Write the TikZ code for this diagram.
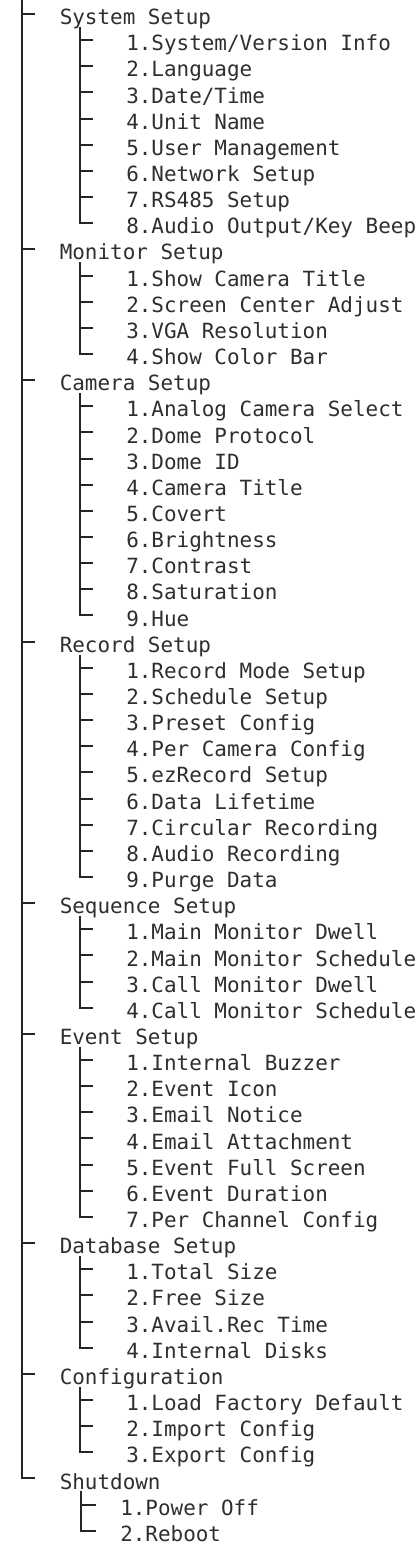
\documentclass[tikz,border=0pt]{standalone}
\usepackage{fontspec}
\newfontfamily\mono{DejaVu Sans Mono}
\definecolor{txt}{HTML}{2E2E2E}
\definecolor{ln}{HTML}{262626}
\tikzset{
  lbl/.style={anchor=base west, inner sep=0pt, text=txt, font=\mono\fontsize{15.7pt}{18pt}\selectfont},
  br/.style={line width=1.5pt, draw=ln}
}
\newcommand\rowy[1]{17+26.15*#1}
\newcommand\Top[2]{%
  \node[lbl] (s#1) at (59.5,{\rowy{#1}+7.6}) {#2};
  \coordinate (s#1-t) at (22,{\rowy{#1}-3});
  \coordinate (s#1-b) at (80,{\rowy{#1}+10});
  \draw[br] (s#1-t) -- ++(13,0);}
\newcommand\Sub[2]{%
  \node[lbl] (s#1) at (126,{\rowy{#1}+7.6}) {#2};
  \coordinate (s#1-t) at (80,{\rowy{#1}-3});
  \draw[br] (s#1-t) -- ++(13,0);}
\newcommand\SubS[2]{%
  \node[lbl] (s#1) at (120,{\rowy{#1}+7.6}) {#2};
  \coordinate (s#1-t) at (80.5,{\rowy{#1}-3});
  \draw[br] (s#1-t) -- ++(15,0);}
\begin{document}
\begin{tikzpicture}[x=0.75pt,y=-0.75pt]
\useasboundingbox (0,0) rectangle (420,1559);
\coordinate (root) at (22,0);
\Top{0}{System Setup}
\Sub{1}{1.System/Version Info}
\Sub{2}{2.Language}
\Sub{3}{3.Date/Time}
\Sub{4}{4.Unit Name}
\Sub{5}{5.User Management}
\Sub{6}{6.Network Setup}
\Sub{7}{7.RS485 Setup}
\Sub{8}{8.Audio Output/Key Beep}
\Top{9}{Monitor Setup}
\Sub{10}{1.Show Camera Title}
\Sub{11}{2.Screen Center Adjust}
\Sub{12}{3.VGA Resolution}
\Sub{13}{4.Show Color Bar}
\Top{14}{Camera Setup}
\Sub{15}{1.Analog Camera Select}
\Sub{16}{2.Dome Protocol}
\Sub{17}{3.Dome ID}
\Sub{18}{4.Camera Title}
\Sub{19}{5.Covert}
\Sub{20}{6.Brightness}
\Sub{21}{7.Contrast}
\Sub{22}{8.Saturation}
\Sub{23}{9.Hue}
\Top{24}{Record Setup}
\Sub{25}{1.Record Mode Setup}
\Sub{26}{2.Schedule Setup}
\Sub{27}{3.Preset Config}
\Sub{28}{4.Per Camera Config}
\Sub{29}{5.ezRecord Setup}
\Sub{30}{6.Data Lifetime}
\Sub{31}{7.Circular Recording}
\Sub{32}{8.Audio Recording}
\Sub{33}{9.Purge Data}
\Top{34}{Sequence Setup}
\Sub{35}{1.Main Monitor Dwell}
\Sub{36}{2.Main Monitor Schedule}
\Sub{37}{3.Call Monitor Dwell}
\Sub{38}{4.Call Monitor Schedule}
\Top{39}{Event Setup}
\Sub{40}{1.Internal Buzzer}
\Sub{41}{2.Event Icon}
\Sub{42}{3.Email Notice}
\Sub{43}{4.Email Attachment}
\Sub{44}{5.Event Full Screen}
\Sub{45}{6.Event Duration}
\Sub{46}{7.Per Channel Config}
\Top{47}{Database Setup}
\Sub{48}{1.Total Size}
\Sub{49}{2.Free Size}
\Sub{50}{3.Avail.Rec Time}
\Sub{51}{4.Internal Disks}
\Top{52}{Configuration}
\Sub{53}{1.Load Factory Default}
\Sub{54}{2.Import Config}
\Sub{55}{3.Export Config}
\Top{56}{Shutdown}
\SubS{57}{1.Power Off}
\SubS{58}{2.Reboot}
% trunks
\draw[br] (root) -- (s56-t) -- ++(13,0);
\draw[br] (s0-b) -- (s8-t) -- ++(13,0);
\draw[br] (s9-b) -- (s13-t) -- ++(13,0);
\draw[br] (s14-b) -- (s23-t) -- ++(13,0);
\draw[br] (s24-b) -- (s33-t) -- ++(13,0);
\draw[br] (s34-b) -- (s38-t) -- ++(13,0);
\draw[br] (s39-b) -- (s46-t) -- ++(13,0);
\draw[br] (s47-b) -- (s51-t) -- ++(13,0);
\draw[br] (s52-b) -- (s55-t) -- ++(13,0);
\draw[br] ([xshift=0.375pt]s56-b) -- (s58-t) -- ++(15,0);
\end{tikzpicture}
\end{document}
